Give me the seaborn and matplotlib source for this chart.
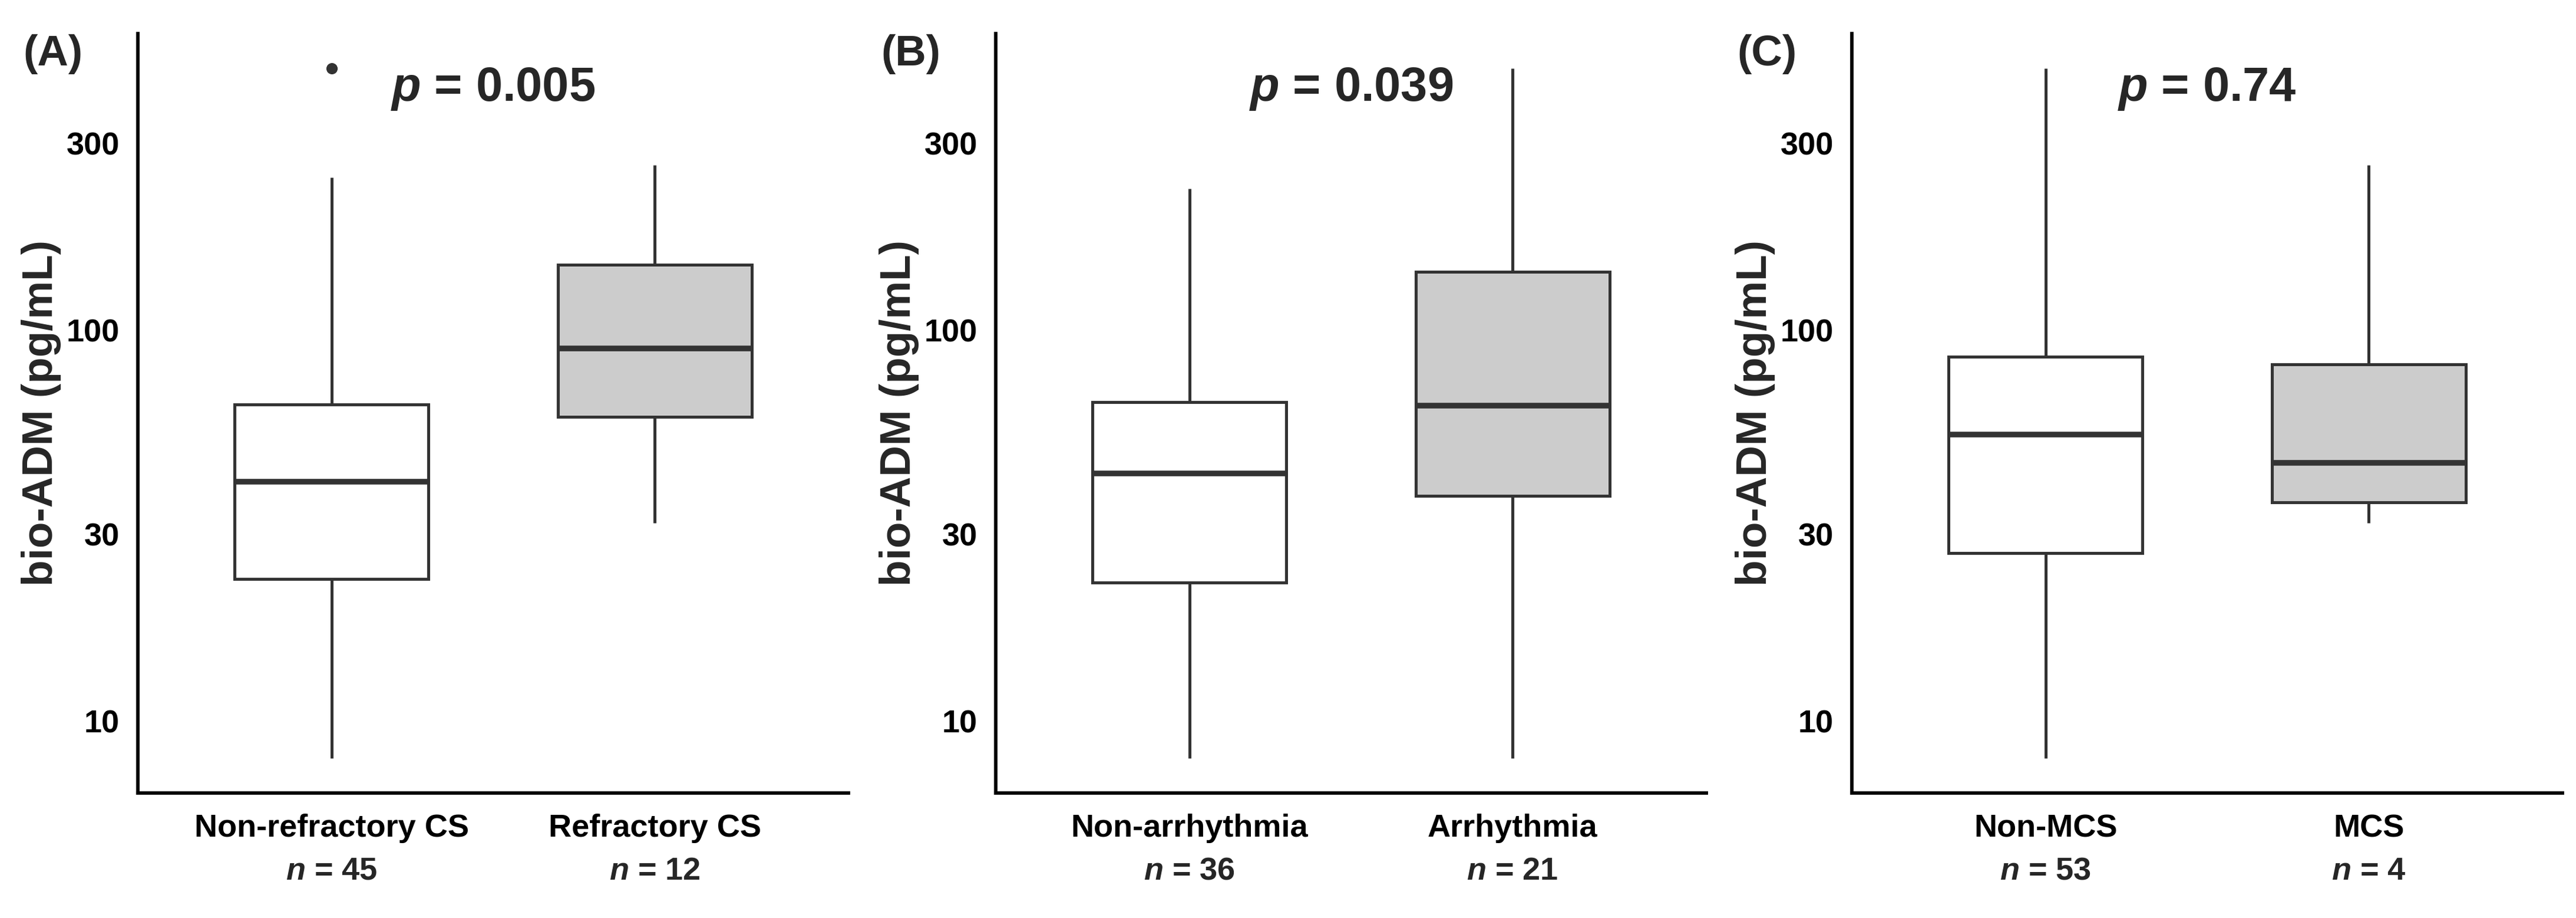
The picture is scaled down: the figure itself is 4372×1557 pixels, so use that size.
import pandas as pd
import seaborn as sns
import matplotlib.pyplot as plt
import matplotlib.transforms as mtransforms
from matplotlib.ticker import FixedLocator, FixedFormatter, NullLocator

# five-number summaries: [min, q1, median, q3, max] in pg/mL
groups_A = ["Non-refractory CS", "Refractory CS"]
n_A = [45, 12]
stats_A = [[8.05, 23.1, 40.9, 64.5, 245], [32.1, 60.0, 89.8, 147, 264]]
outliers_A = {"Non-refractory CS": [466]}
p_A = "0.005"

groups_B = ["Non-arrhythmia", "Arrhythmia"]
n_B = [36, 21]
stats_B = [[8.05, 22.6, 42.9, 65.4, 230], [8.05, 37.6, 64.1, 141, 466]]
outliers_B = {}
p_B = "0.039"

groups_C = ["Non-MCS", "MCS"]
n_C = [53, 4]
stats_C = [[8.05, 26.9, 54.1, 85.3, 466], [32.1, 36.2, 45.7, 81.6, 264]]
outliers_C = {}
p_C = "0.74"

panel_tags = ["(A)", "(B)", "(C)"]
y_ticks = [10, 30, 100, 300]

sns.set_style("white")
plt.rcParams["font.family"] = ["Liberation Sans", "DejaVu Sans"]
plt.rcParams["font.weight"] = "bold"
plt.rcParams["mathtext.fontset"] = "custom"
plt.rcParams["mathtext.it"] = "Liberation Sans:italic:bold"
plt.rcParams["mathtext.rm"] = "Liberation Sans:bold"

W, H = 4372, 1557
fig = plt.figure(figsize=(W / 300, H / 300), dpi=300)

lefts = [234, 1690, 3143]
panels = [(groups_A, n_A, stats_A, outliers_A, p_A),
          (groups_B, n_B, stats_B, outliers_B, p_B),
          (groups_C, n_C, stats_C, outliers_C, p_C)]

for i, (groups, ns, stats, outl, pval) in enumerate(panels):
    ax = fig.add_axes([lefts[i] / W, 1 - 1345 / H, 1206 / W, (1345 - 57) / H])

    rows = []
    for g, s in zip(groups, stats):
        for v in s:
            rows.append({"group": g, "value": v})
    df = pd.DataFrame(rows)

    sns.boxplot(data=df, x="group", y="value", hue="group", order=groups,
                hue_order=groups, palette=["white", "#cccccc"], saturation=1,
                whis=(0, 100), width=0.6, log_scale=True, linecolor="#333333",
                linewidth=1.2, showcaps=False, fliersize=0, legend=False,
                medianprops={"linewidth": 2.3, "color": "#333333"}, ax=ax)

    for g, vals in outl.items():
        sns.stripplot(x=[g] * len(vals), y=vals, order=groups, jitter=False,
                      color="#333333", size=4.6, log_scale=True, ax=ax)

    ax.set_xlim(-0.6, 1.6)
    ax.set_ylim(6.55, 572)
    ax.yaxis.set_major_locator(FixedLocator(y_ticks))
    ax.yaxis.set_major_formatter(FixedFormatter([str(t) for t in y_ticks]))
    ax.yaxis.set_minor_locator(NullLocator())
    ax.set_xticks(range(len(groups)))
    ax.set_xticklabels(groups)
    ax.tick_params(axis="both", labelsize=13, length=3, width=1.2,
                   color="black", labelcolor="black", pad=4.5)
    ax.tick_params(axis="x", pad=5.5)
    for lab in ax.get_xticklabels() + ax.get_yticklabels():
        lab.set_fontweight("bold")

    # second line under each category: group size
    trans = mtransforms.blended_transform_factory(ax.transData, ax.transAxes)
    for k, n in enumerate(ns):
        ax.text(k, -0.1141, f"$n$ = {n}", transform=trans, ha="center",
                va="baseline", fontsize=13, fontweight="bold", clip_on=False)

    ax.set_xlabel("")
    ax.set_ylabel("bio-ADM (pg/mL)", fontsize=17.5, fontweight="bold")
    ax.yaxis.set_label_coords(-0.108, 0.5)

    for side in ["top", "right"]:
        ax.spines[side].set_visible(False)
    for side in ["left", "bottom"]:
        ax.spines[side].set_color("black")
        ax.spines[side].set_linewidth(1.4)

    ax.text(0.5, 0.927, f"$p$ = {pval}", transform=ax.transAxes,
            ha="center", va="center", fontsize=19.5, fontweight="bold")

    fig.text((lefts[i] - 195) / W, 1 - 92 / H, panel_tags[i], ha="left",
             va="center", fontsize=17.5, fontweight="bold")

fig.savefig("out.png", dpi=300, facecolor="white")
